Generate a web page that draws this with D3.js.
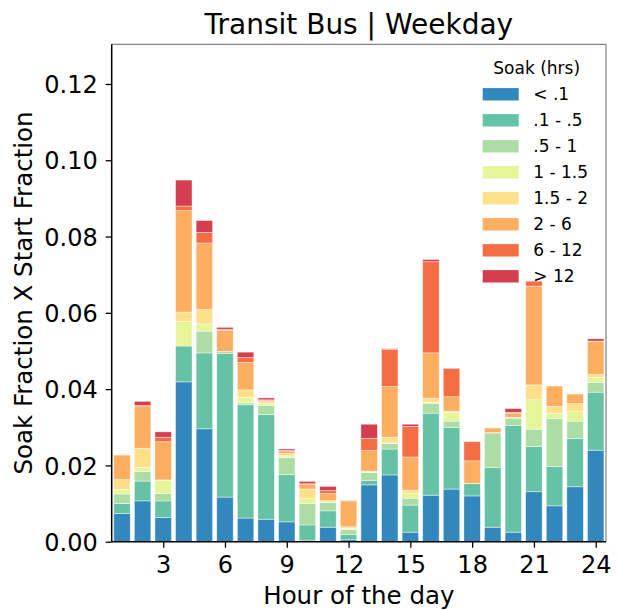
<html>
<head>
<script src="https://d3js.org/d3.v7.min.js"></script>
<style>
  body { margin: 0; background: #fff; }
  text { font-family: "DejaVu Sans", sans-serif; fill: #000; }
</style>
</head>
<body>
<div id="chart"></div>
<script>
// hours on the x axis
const hours = [1, 2, 3, 4, 5, 6, 7, 8, 9, 10, 11, 12, 13, 14, 15, 16, 17, 18, 19, 20, 21, 22, 23, 24]
const xTicks = [3, 6, 9, 12, 15, 18, 21, 24]
const yTicks = [0, 0.02, 0.04, 0.06, 0.08, 0.10, 0.12]

// soak bins (legend order, bottom of stack first)
const soakBins = ['< .1', '.1 - .5', '.5 - 1', '1 - 1.5', '1.5 - 2', '2 - 6', '6 - 12', '> 12']

const lt01  = [0.0074, 0.0107, 0.0063, 0.0419, 0.0296, 0.0117, 0.0062, 0.0059, 0.0052, 0.0004, 0.0038, 0.0005, 0.0149, 0.0175, 0.0025, 0.0122, 0.0138, 0.0120, 0.0038, 0.0025, 0.0131, 0.0094, 0.0144, 0.0240]
const s01_05 = [0.0026, 0.0052, 0.0044, 0.0094, 0.0199, 0.0376, 0.0297, 0.0274, 0.0124, 0.0040, 0.0043, 0.0014, 0.0012, 0.0068, 0.0071, 0.0215, 0.0161, 0.0032, 0.0156, 0.0280, 0.0119, 0.0103, 0.0127, 0.0152]
const s05_1 = [0.0025, 0.0025, 0.0019, 0.0000, 0.0057, 0.0006, 0.0005, 0.0024, 0.0044, 0.0056, 0.0022, 0.0013, 0.0020, 0.0014, 0.0018, 0.0026, 0.0017, 0.0000, 0.0091, 0.0019, 0.0045, 0.0126, 0.0045, 0.0025]
const s1_15 = [0.0012, 0.0011, 0.0035, 0.0064, 0.0019, 0.0000, 0.0014, 0.0005, 0.0005, 0.0013, 0.0001, 0.0003, 0.0002, 0.0002, 0.0013, 0.0002, 0.0023, 0.0000, 0.0000, 0.0001, 0.0077, 0.0014, 0.0025, 0.0014]
const s15_2 = [0.0026, 0.0050, 0.0001, 0.0025, 0.0038, 0.0000, 0.0020, 0.0005, 0.0006, 0.0025, 0.0004, 0.0004, 0.0002, 0.0015, 0.0008, 0.0011, 0.0003, 0.0001, 0.0001, 0.0001, 0.0039, 0.0018, 0.0021, 0.0007]
const s2_6  = [0.0064, 0.0111, 0.0100, 0.0266, 0.0174, 0.0055, 0.0072, 0.0003, 0.0005, 0.0013, 0.0019, 0.0068, 0.0054, 0.0133, 0.0087, 0.0119, 0.0038, 0.0059, 0.0012, 0.0011, 0.0259, 0.0053, 0.0025, 0.0087]
const s6_12 = [0.0000, 0.0001, 0.0012, 0.0012, 0.0028, 0.0003, 0.0013, 0.0002, 0.0003, 0.0001, 0.0007, 0.0000, 0.0032, 0.0097, 0.0080, 0.0239, 0.0074, 0.0050, 0.0000, 0.0002, 0.0013, 0.0000, 0.0000, 0.0001]
const gt12  = [0.0000, 0.0011, 0.0014, 0.0068, 0.0031, 0.0005, 0.0014, 0.0005, 0.0004, 0.0006, 0.0011, 0.0001, 0.0037, 0.0002, 0.0006, 0.0006, 0.0001, 0.0000, 0.0000, 0.0010, 0.0000, 0.0000, 0.0000, 0.0006]

const series = [lt01, s01_05, s05_1, s1_15, s15_2, s2_6, s6_12, gt12]

// build rows for d3.stack
const rows = hours.map((h, i) => {
    const r = { hour: h }
    soakBins.forEach((b, j) => { r[b] = series[j][i] })
    return r
})

const width = 619, height = 610
const margin = { top: 44.3, right: 13, bottom: 68.3, left: 111.7 }

const svg = d3.select('#chart')
    .append('svg')
    .attr('width', width)
    .attr('height', height)

const x = d3.scaleLinear()
    .domain([0.5, 24.5])
    .range([margin.left, width - margin.right])

const y = d3.scaleLinear()
    .domain([0, 0.1304])
    .range([height - margin.bottom, margin.top])

const color = d3.scaleOrdinal()
    .domain(soakBins)
    .range(d3.schemeSpectral[8].slice().reverse())

const stacked = d3.stack().keys(soakBins)(rows)
const barW = x(0.8) - x(0)

svg.append('g')
    .selectAll('g')
    .data(stacked)
    .join('g')
    .attr('fill', d => color(d.key))
    .selectAll('rect')
    .data(d => d)
    .join('rect')
    .attr('x', d => x(d.data.hour) - barW / 2)
    .attr('width', barW)
    .attr('y', d => y(d[1]))
    .attr('height', d => y(d[0]) - y(d[1]))
    .attr('stroke', '#fff')
    .attr('stroke-width', 0.7)
    .attr('stroke-opacity', 0.6)

// axes
const xAxis = svg.append('g')
    .attr('transform', `translate(0,${height - margin.bottom})`)
    .call(d3.axisBottom(x).tickValues(xTicks).tickSize(6).tickPadding(8).tickFormat(d3.format('d')))

const yAxis = svg.append('g')
    .attr('transform', `translate(${margin.left},0)`)
    .call(d3.axisLeft(y).tickValues(yTicks).tickSize(6).tickPadding(8).tickFormat(d3.format('.2f')))

;[xAxis, yAxis].forEach(a => {
    a.select('.domain').remove()
    a.selectAll('.tick line').attr('stroke', '#000').attr('stroke-width', 1.3)
    a.selectAll('.tick text').style('font-family', '"DejaVu Sans", sans-serif').style('font-size', '24px').attr('fill', '#000')
})
yAxis.selectAll('.tick text').attr('dy', '0.36em')

// frame
const x0 = margin.left, x1 = width - margin.right
const y0 = height - margin.bottom, y1 = margin.top
svg.append('line').attr('x1', x0).attr('x2', x1).attr('y1', y1).attr('y2', y1).attr('stroke', '#666').attr('stroke-width', 1)
svg.append('line').attr('x1', x1).attr('x2', x1).attr('y1', y1).attr('y2', y0).attr('stroke', '#666').attr('stroke-width', 1)
svg.append('line').attr('x1', x0).attr('x2', x1).attr('y1', y0).attr('y2', y0).attr('stroke', '#000').attr('stroke-width', 1.5)
svg.append('line').attr('x1', x0).attr('x2', x0).attr('y1', y1).attr('y2', y0).attr('stroke', '#000').attr('stroke-width', 1.5)

// title and axis labels
svg.append('text')
    .attr('x', (x0 + x1) / 2)
    .attr('y', 34.3)
    .attr('text-anchor', 'middle')
    .style('font-size', '28px')
    .text('Transit Bus | Weekday')

svg.append('text')
    .attr('x', (x0 + x1) / 2)
    .attr('y', 604)
    .attr('text-anchor', 'middle')
    .style('font-size', '24.5px')
    .text('Hour of the day')

svg.append('text')
    .attr('transform', `translate(32,${(y0 + y1) / 2}) rotate(-90)`)
    .attr('text-anchor', 'middle')
    .style('font-size', '24.5px')
    .text('Soak Fraction X Start Fraction')

// legend
const legend = svg.append('g')
legend.append('text')
    .attr('x', 536.7)
    .attr('y', 74.3)
    .attr('text-anchor', 'middle')
    .style('font-size', '17px')
    .text('Soak (hrs)')

const item = legend.selectAll('g.item')
    .data(soakBins)
    .join('g')
    .attr('class', 'item')
    .attr('transform', (d, i) => `translate(0,${94.3 + i * 26})`)

item.append('rect')
    .attr('x', 482.7)
    .attr('y', -6.2)
    .attr('width', 36)
    .attr('height', 12.4)
    .attr('fill', d => color(d))

item.append('text')
    .attr('x', 533.3)
    .attr('y', 0)
    .attr('dy', '0.36em')
    .style('font-size', '17px')
    .text(d => d)
</script>
</body>
</html>
